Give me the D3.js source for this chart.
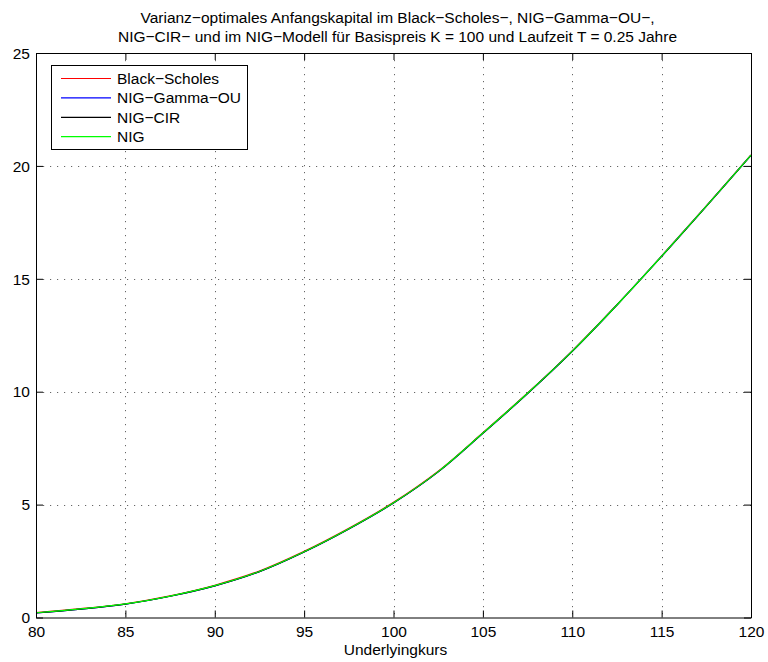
<!DOCTYPE html>
<html>
<head>
<meta charset="utf-8">
<script src="https://cdn.jsdelivr.net/npm/d3@7"></script>
<style>
  body { margin: 0; background: #fff; }
  svg text { font-family: "Liberation Sans", Arial, sans-serif; fill: #000; }
</style>
</head>
<body>
<div id="app"></div>
<script>
// ---------- Data ----------

const spot = [80, 82.5, 85, 87.5, 90, 92.5, 95, 97.5, 100, 102.5, 105, 107.5, 110, 112.5, 115, 117.5, 120];

const blackScholes = [0.22, 0.39, 0.61, 0.96, 1.43, 2.06, 2.93, 3.95, 5.10, 6.48, 8.18, 9.94, 11.81, 13.85, 16.01, 18.23, 20.49];
const nigGammaOU   = [0.20, 0.37, 0.59, 0.94, 1.40, 2.03, 2.90, 3.92, 5.07, 6.45, 8.16, 9.92, 11.79, 13.84, 16.00, 18.22, 20.48];
const nigCIR       = [0.20, 0.37, 0.59, 0.94, 1.40, 2.03, 2.90, 3.92, 5.07, 6.45, 8.16, 9.92, 11.79, 13.84, 15.99, 18.21, 20.47];
const nig          = [0.21, 0.38, 0.60, 0.95, 1.41, 2.04, 2.91, 3.93, 5.08, 6.46, 8.17, 9.93, 11.80, 13.84, 16.00, 18.22, 20.48];

const seriesNames = ["Black\u2212Scholes", "NIG\u2212Gamma\u2212OU", "NIG\u2212CIR", "NIG"];
const seriesColors = ["#ff0000", "#0000ff", "#000000", "#00ff00"];
const seriesValues = [blackScholes, nigGammaOU, nigCIR, nig];

const xTicks = [80, 85, 90, 95, 100, 105, 110, 115, 120];
const yTicks = [0, 5, 10, 15, 20, 25];

const titleLines = [
  "Varianz\u2212optimales Anfangskapital im Black\u2212Scholes\u2212, NIG\u2212Gamma\u2212OU\u2212,",
  "NIG\u2212CIR\u2212 und im NIG\u2212Modell f\u00fcr Basispreis K = 100 und Laufzeit T = 0.25 Jahre"
];
const xLabel = "Underlyingkurs";

// ---------- Layout ----------

const WIDTH = 768, HEIGHT = 662;
const LEFT = 36, RIGHT = 751, TOP = 53, BOTTOM = 617.5;
const TICK = 7;
const FONT = 15.5;

const svg = d3.select("#app").append("svg")
  .attr("width", WIDTH)
  .attr("height", HEIGHT);

const x = d3.scaleLinear().domain([80, 120]).range([LEFT, RIGHT]);
const y = d3.scaleLinear().domain([0, 25]).range([BOTTOM, TOP]);

// ---------- Grid ----------

const grid = svg.append("g").attr("stroke", "#666").attr("stroke-width", 1)
  .attr("stroke-dasharray", "1.2,5.8").attr("fill", "none");
grid.selectAll("line.gx").data(xTicks.slice(1, -1)).enter().append("line")
  .attr("x1", d => Math.round(x(d)) + 0.5).attr("x2", d => Math.round(x(d)) + 0.5)
  .attr("y1", TOP).attr("y2", BOTTOM);
grid.selectAll("line.gy").data(yTicks.slice(1, -1)).enter().append("line")
  .attr("y1", d => Math.round(y(d)) + 0.5).attr("y2", d => Math.round(y(d)) + 0.5)
  .attr("x1", LEFT).attr("x2", RIGHT);

// ---------- Curves ----------

const line = d3.line()
  .x((d, i) => x(spot[i]))
  .y(d => y(d))
  .curve(d3.curveCatmullRom.alpha(0.5));

svg.append("g").selectAll("path")
  .data(seriesValues)
  .enter().append("path")
  .attr("d", d => line(d))
  .attr("fill", "none")
  .attr("stroke", (d, i) => seriesColors[i])
  .attr("stroke-width", 1.2);

// ---------- Axes ----------

const axisBottom = d3.axisBottom(x).tickValues(xTicks).tickSizeInner(-TICK).tickSizeOuter(0);
const axisTop = d3.axisTop(x).tickValues(xTicks).tickSizeInner(-TICK).tickSizeOuter(0).tickFormat("");
const axisLeft = d3.axisLeft(y).tickValues(yTicks).tickSizeInner(-TICK).tickSizeOuter(0);
const axisRight = d3.axisRight(y).tickValues(yTicks).tickSizeInner(-TICK).tickSizeOuter(0).tickFormat("");

function styleAxis(g) {
  g.select(".domain").attr("stroke", "#000").attr("stroke-width", 1);
  g.selectAll(".tick line").attr("stroke", "#000");
  g.selectAll(".tick text")
    .attr("font-size", FONT)
    .attr("font-family", "Liberation Sans, Arial, sans-serif")
    .attr("fill", "#000");
}

svg.append("g").attr("transform", `translate(0,${BOTTOM})`).call(axisBottom).call(styleAxis)
  .selectAll(".tick text").attr("y", 19.5).attr("dy", 0);
svg.append("g").attr("transform", `translate(0,${TOP})`).call(axisTop).call(styleAxis);
svg.append("g").attr("transform", `translate(${LEFT},0)`).call(axisLeft).call(styleAxis)
  .selectAll(".tick text").attr("x", -6).attr("dy", "0.34em");
svg.append("g").attr("transform", `translate(${RIGHT},0)`).call(axisRight).call(styleAxis);

// ---------- Title & label ----------

const cx = (LEFT + RIGHT) / 2 + 4;
svg.append("g").selectAll("text")
  .data(titleLines)
  .enter().append("text")
  .attr("x", cx)
  .attr("y", (d, i) => 23 + i * 19.3)
  .attr("text-anchor", "middle")
  .attr("font-size", FONT)
  .text(d => d);

svg.append("text")
  .attr("x", cx - 2)
  .attr("y", 655)
  .attr("text-anchor", "middle")
  .attr("font-size", FONT)
  .text(xLabel);

// ---------- Legend ----------

const legend = svg.append("g");
legend.append("rect")
  .attr("x", 51.5).attr("y", 65.5)
  .attr("width", 196).attr("height", 84)
  .attr("fill", "#fff").attr("stroke", "#000").attr("stroke-width", 1);

const items = legend.selectAll("g.item")
  .data(seriesNames)
  .enter().append("g")
  .attr("transform", (d, i) => `translate(0,${78.5 + i * 19.4})`);
items.append("line")
  .attr("x1", 61).attr("x2", 111)
  .attr("stroke", (d, i) => seriesColors[i])
  .attr("stroke-width", 1.2);
items.append("text")
  .attr("x", 117).attr("dy", "0.36em")
  .attr("font-size", FONT)
  .text(d => d);
</script>
</body>
</html>
